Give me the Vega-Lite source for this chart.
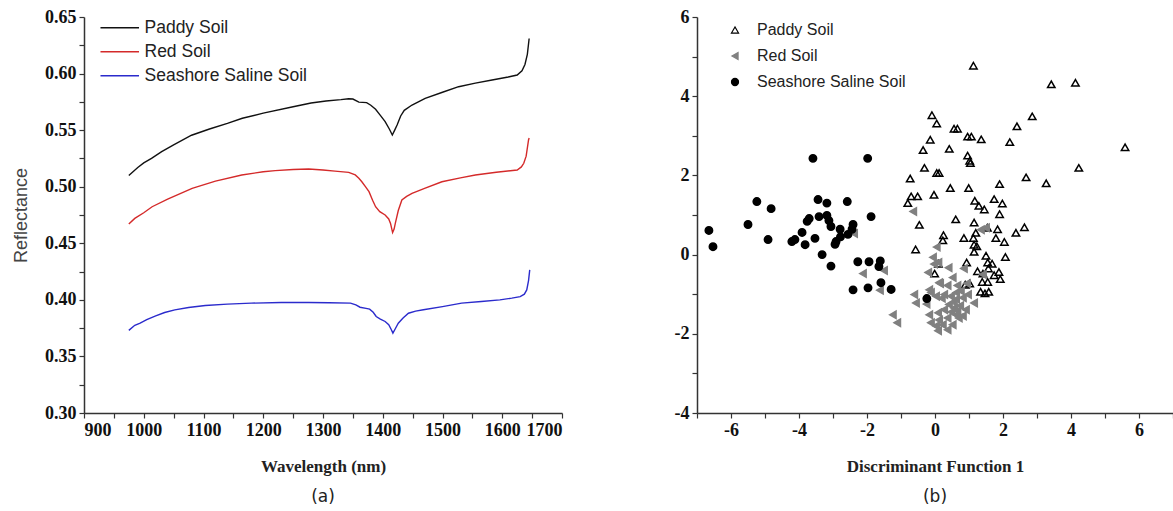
{
"$schema": "https://vega.github.io/schema/vega-lite/v6.json",
"padding": {"left": 12, "top": 8, "right": 0, "bottom": 0},
"spacing": 135,
"bounds": "flush",
"resolve": {"scale": {"color": "independent", "shape": "independent", "fill": "independent", "stroke": "independent", "x": "independent", "y": "independent"}, "legend": {"color": "independent", "shape": "independent", "fill": "independent", "stroke": "independent"}},
"config": {
  "view": {"stroke": null},
  "axis": {"domainColor": "#333", "tickColor": "#333", "domainWidth": 1.5, "tickWidth": 1.2, "tickSize": 5, "grid": false,
    "labelFont": "Liberation Serif", "labelFontWeight": "bold", "labelFontSize": 18, "labelColor": "#111",
    "titleFont": "Liberation Serif", "titleFontWeight": "bold", "titleFontSize": 17, "titleColor": "#222"}
},
"datasets": {
  "spectra": [
    {"soil":"Paddy Soil","wl":975,"r":0.510},{"soil":"Paddy Soil","wl":990,"r":0.517},{"soil":"Paddy Soil","wl":1000,"r":0.521},{"soil":"Paddy Soil","wl":1013,"r":0.525},{"soil":"Paddy Soil","wl":1030,"r":0.531},{"soil":"Paddy Soil","wl":1050,"r":0.537},{"soil":"Paddy Soil","wl":1080,"r":0.5455},{"soil":"Paddy Soil","wl":1110,"r":0.551},{"soil":"Paddy Soil","wl":1140,"r":0.556},{"soil":"Paddy Soil","wl":1165,"r":0.5605},{"soil":"Paddy Soil","wl":1200,"r":0.565},{"soil":"Paddy Soil","wl":1250,"r":0.5707},{"soil":"Paddy Soil","wl":1280,"r":0.574},{"soil":"Paddy Soil","wl":1305,"r":0.5758},{"soil":"Paddy Soil","wl":1330,"r":0.577},{"soil":"Paddy Soil","wl":1343,"r":0.5778},{"soil":"Paddy Soil","wl":1350,"r":0.5775},{"soil":"Paddy Soil","wl":1360,"r":0.5748},{"soil":"Paddy Soil","wl":1373,"r":0.5743},{"soil":"Paddy Soil","wl":1380,"r":0.572},{"soil":"Paddy Soil","wl":1388,"r":0.5684},{"soil":"Paddy Soil","wl":1396,"r":0.563},{"soil":"Paddy Soil","wl":1404,"r":0.5575},{"soil":"Paddy Soil","wl":1411,"r":0.551},{"soil":"Paddy Soil","wl":1416,"r":0.5457},{"soil":"Paddy Soil","wl":1420,"r":0.550},{"soil":"Paddy Soil","wl":1424,"r":0.5545},{"soil":"Paddy Soil","wl":1430,"r":0.5625},{"soil":"Paddy Soil","wl":1436,"r":0.5675},{"soil":"Paddy Soil","wl":1449,"r":0.5722},{"soil":"Paddy Soil","wl":1471,"r":0.5781},{"soil":"Paddy Soil","wl":1500,"r":0.5835},{"soil":"Paddy Soil","wl":1527,"r":0.5884},{"soil":"Paddy Soil","wl":1555,"r":0.5915},{"soil":"Paddy Soil","wl":1583,"r":0.5943},{"soil":"Paddy Soil","wl":1610,"r":0.597},{"soil":"Paddy Soil","wl":1625,"r":0.5987},{"soil":"Paddy Soil","wl":1633,"r":0.6025},{"soil":"Paddy Soil","wl":1638,"r":0.608},{"soil":"Paddy Soil","wl":1642,"r":0.617},{"soil":"Paddy Soil","wl":1645,"r":0.631},
    {"soil":"Red Soil","wl":975,"r":0.467},{"soil":"Red Soil","wl":985,"r":0.472},{"soil":"Red Soil","wl":1000,"r":0.477},{"soil":"Red Soil","wl":1014,"r":0.4823},{"soil":"Red Soil","wl":1040,"r":0.489},{"soil":"Red Soil","wl":1081,"r":0.4986},{"soil":"Red Soil","wl":1120,"r":0.505},{"soil":"Red Soil","wl":1164,"r":0.5104},{"soil":"Red Soil","wl":1200,"r":0.5132},{"soil":"Red Soil","wl":1220,"r":0.5142},{"soil":"Red Soil","wl":1250,"r":0.5152},{"soil":"Red Soil","wl":1276,"r":0.5157},{"soil":"Red Soil","wl":1300,"r":0.5148},{"soil":"Red Soil","wl":1320,"r":0.5138},{"soil":"Red Soil","wl":1343,"r":0.5127},{"soil":"Red Soil","wl":1354,"r":0.5104},{"soil":"Red Soil","wl":1360,"r":0.5075},{"soil":"Red Soil","wl":1365,"r":0.5044},{"soil":"Red Soil","wl":1371,"r":0.500},{"soil":"Red Soil","wl":1377,"r":0.4956},{"soil":"Red Soil","wl":1383,"r":0.488},{"soil":"Red Soil","wl":1388,"r":0.4823},{"soil":"Red Soil","wl":1395,"r":0.478},{"soil":"Red Soil","wl":1404,"r":0.475},{"soil":"Red Soil","wl":1410,"r":0.4715},{"soil":"Red Soil","wl":1413,"r":0.4676},{"soil":"Red Soil","wl":1416.5,"r":0.4595},{"soil":"Red Soil","wl":1419,"r":0.4625},{"soil":"Red Soil","wl":1421,"r":0.4676},{"soil":"Red Soil","wl":1426,"r":0.479},{"soil":"Red Soil","wl":1432,"r":0.4883},{"soil":"Red Soil","wl":1440,"r":0.4915},{"soil":"Red Soil","wl":1449,"r":0.4942},{"soil":"Red Soil","wl":1470,"r":0.4985},{"soil":"Red Soil","wl":1499,"r":0.5044},{"soil":"Red Soil","wl":1530,"r":0.5078},{"soil":"Red Soil","wl":1555,"r":0.5104},{"soil":"Red Soil","wl":1590,"r":0.5128},{"soil":"Red Soil","wl":1625,"r":0.5148},{"soil":"Red Soil","wl":1632,"r":0.5175},{"soil":"Red Soil","wl":1636,"r":0.5207},{"soil":"Red Soil","wl":1640,"r":0.527},{"soil":"Red Soil","wl":1644,"r":0.5413},{"soil":"Red Soil","wl":1645,"r":0.543},
    {"soil":"Seashore Saline Soil","wl":975,"r":0.373},{"soil":"Seashore Saline Soil","wl":985,"r":0.3775},{"soil":"Seashore Saline Soil","wl":994,"r":0.3794},{"soil":"Seashore Saline Soil","wl":1005,"r":0.3825},{"soil":"Seashore Saline Soil","wl":1020,"r":0.3859},{"soil":"Seashore Saline Soil","wl":1035,"r":0.3888},{"soil":"Seashore Saline Soil","wl":1052,"r":0.3912},{"soil":"Seashore Saline Soil","wl":1075,"r":0.3933},{"soil":"Seashore Saline Soil","wl":1103,"r":0.395},{"soil":"Seashore Saline Soil","wl":1140,"r":0.3962},{"soil":"Seashore Saline Soil","wl":1180,"r":0.3971},{"soil":"Seashore Saline Soil","wl":1230,"r":0.3976},{"soil":"Seashore Saline Soil","wl":1276,"r":0.3977},{"soil":"Seashore Saline Soil","wl":1310,"r":0.3975},{"soil":"Seashore Saline Soil","wl":1346,"r":0.3971},{"soil":"Seashore Saline Soil","wl":1355,"r":0.3955},{"soil":"Seashore Saline Soil","wl":1362,"r":0.3935},{"soil":"Seashore Saline Soil","wl":1372,"r":0.3925},{"soil":"Seashore Saline Soil","wl":1378,"r":0.3918},{"soil":"Seashore Saline Soil","wl":1384,"r":0.389},{"soil":"Seashore Saline Soil","wl":1389,"r":0.3853},{"soil":"Seashore Saline Soil","wl":1396,"r":0.383},{"soil":"Seashore Saline Soil","wl":1404,"r":0.3809},{"soil":"Seashore Saline Soil","wl":1410,"r":0.378},{"soil":"Seashore Saline Soil","wl":1414,"r":0.374},{"soil":"Seashore Saline Soil","wl":1417,"r":0.3706},{"soil":"Seashore Saline Soil","wl":1421,"r":0.3745},{"soil":"Seashore Saline Soil","wl":1426,"r":0.3794},{"soil":"Seashore Saline Soil","wl":1434,"r":0.384},{"soil":"Seashore Saline Soil","wl":1443,"r":0.3882},{"soil":"Seashore Saline Soil","wl":1455,"r":0.390},{"soil":"Seashore Saline Soil","wl":1468,"r":0.3912},{"soil":"Seashore Saline Soil","wl":1500,"r":0.394},{"soil":"Seashore Saline Soil","wl":1532,"r":0.3971},{"soil":"Seashore Saline Soil","wl":1565,"r":0.3985},{"soil":"Seashore Saline Soil","wl":1596,"r":0.400},{"soil":"Seashore Saline Soil","wl":1616,"r":0.4015},{"soil":"Seashore Saline Soil","wl":1630,"r":0.4029},{"soil":"Seashore Saline Soil","wl":1637,"r":0.405},{"soil":"Seashore Saline Soil","wl":1641,"r":0.4088},{"soil":"Seashore Saline Soil","wl":1644,"r":0.417},{"soil":"Seashore Saline Soil","wl":1646,"r":0.4265}
  ],
  "scores": [
    {"soil":"Paddy Soil","x":1.13,"y":4.77},{"soil":"Paddy Soil","x":3.42,"y":4.30},{"soil":"Paddy Soil","x":4.13,"y":4.34},{"soil":"Paddy Soil","x":5.59,"y":2.71},{"soil":"Paddy Soil","x":4.23,"y":2.19},{"soil":"Paddy Soil","x":2.86,"y":3.49},{"soil":"Paddy Soil","x":2.41,"y":3.24},{"soil":"Paddy Soil","x":2.20,"y":2.84},{"soil":"Paddy Soil","x":2.68,"y":1.95},{"soil":"Paddy Soil","x":3.27,"y":1.80},{"soil":"Paddy Soil","x":-0.09,"y":3.52},{"soil":"Paddy Soil","x":0.05,"y":3.31},{"soil":"Paddy Soil","x":-0.14,"y":2.90},{"soil":"Paddy Soil","x":-0.35,"y":2.64},{"soil":"Paddy Soil","x":-0.31,"y":2.19},{"soil":"Paddy Soil","x":-0.73,"y":1.92},{"soil":"Paddy Soil","x":0.05,"y":2.06},{"soil":"Paddy Soil","x":0.12,"y":2.06},{"soil":"Paddy Soil","x":0.42,"y":2.67},{"soil":"Paddy Soil","x":0.56,"y":3.18},{"soil":"Paddy Soil","x":0.66,"y":3.18},{"soil":"Paddy Soil","x":0.96,"y":2.98},{"soil":"Paddy Soil","x":1.07,"y":2.98},{"soil":"Paddy Soil","x":1.36,"y":2.91},{"soil":"Paddy Soil","x":0.96,"y":2.50},{"soil":"Paddy Soil","x":1.02,"y":2.37},{"soil":"Paddy Soil","x":1.04,"y":2.31},{"soil":"Paddy Soil","x":-0.03,"y":1.51},{"soil":"Paddy Soil","x":0.45,"y":1.68},{"soil":"Paddy Soil","x":0.99,"y":1.68},{"soil":"Paddy Soil","x":1.90,"y":1.78},{"soil":"Paddy Soil","x":-0.70,"y":1.47},{"soil":"Paddy Soil","x":-0.51,"y":1.47},{"soil":"Paddy Soil","x":-0.80,"y":1.30},{"soil":"Paddy Soil","x":-0.46,"y":0.75},{"soil":"Paddy Soil","x":0.61,"y":0.89},{"soil":"Paddy Soil","x":1.15,"y":0.81},{"soil":"Paddy Soil","x":1.17,"y":1.36},{"soil":"Paddy Soil","x":1.29,"y":1.23},{"soil":"Paddy Soil","x":1.45,"y":1.14},{"soil":"Paddy Soil","x":1.74,"y":1.40},{"soil":"Paddy Soil","x":1.98,"y":1.29},{"soil":"Paddy Soil","x":1.90,"y":1.02},{"soil":"Paddy Soil","x":1.54,"y":0.68},{"soil":"Paddy Soil","x":1.84,"y":0.64},{"soil":"Paddy Soil","x":2.38,"y":0.55},{"soil":"Paddy Soil","x":2.63,"y":0.69},{"soil":"Paddy Soil","x":0.25,"y":0.49},{"soil":"Paddy Soil","x":0.23,"y":0.36},{"soil":"Paddy Soil","x":0.85,"y":0.42},{"soil":"Paddy Soil","x":1.13,"y":0.42},{"soil":"Paddy Soil","x":1.20,"y":0.55},{"soil":"Paddy Soil","x":1.79,"y":0.42},{"soil":"Paddy Soil","x":2.04,"y":0.32},{"soil":"Paddy Soil","x":-0.57,"y":0.13},{"soil":"Paddy Soil","x":1.15,"y":0.25},{"soil":"Paddy Soil","x":1.23,"y":0.21},{"soil":"Paddy Soil","x":1.15,"y":0.07},{"soil":"Paddy Soil","x":1.50,"y":-0.03},{"soil":"Paddy Soil","x":2.07,"y":-0.06},{"soil":"Paddy Soil","x":-0.01,"y":-0.48},{"soil":"Paddy Soil","x":0.10,"y":-0.23},{"soil":"Paddy Soil","x":0.93,"y":-0.20},{"soil":"Paddy Soil","x":1.25,"y":-0.42},{"soil":"Paddy Soil","x":1.55,"y":-0.20},{"soil":"Paddy Soil","x":1.68,"y":-0.23},{"soil":"Paddy Soil","x":1.57,"y":-0.35},{"soil":"Paddy Soil","x":1.41,"y":-0.48},{"soil":"Paddy Soil","x":1.74,"y":-0.52},{"soil":"Paddy Soil","x":1.88,"y":-0.44},{"soil":"Paddy Soil","x":1.92,"y":-0.62},{"soil":"Paddy Soil","x":1.55,"y":-0.69},{"soil":"Paddy Soil","x":1.39,"y":-0.69},{"soil":"Paddy Soil","x":1.02,"y":-0.73},{"soil":"Paddy Soil","x":0.89,"y":-0.76},{"soil":"Paddy Soil","x":1.34,"y":-0.94},{"soil":"Paddy Soil","x":1.47,"y":-0.98},{"soil":"Paddy Soil","x":1.58,"y":-0.94},
    {"soil":"Red Soil","x":-2.38,"y":0.53},{"soil":"Red Soil","x":-2.12,"y":-0.48},{"soil":"Red Soil","x":-1.50,"y":-0.40},{"soil":"Red Soil","x":-1.62,"y":-0.90},{"soil":"Red Soil","x":-0.64,"y":1.09},{"soil":"Red Soil","x":-1.24,"y":-1.52},{"soil":"Red Soil","x":-1.11,"y":-1.72},{"soil":"Red Soil","x":-0.61,"y":-1.01},{"soil":"Red Soil","x":-0.56,"y":-1.22},{"soil":"Red Soil","x":-0.17,"y":-0.89},{"soil":"Red Soil","x":-0.06,"y":-0.07},{"soil":"Red Soil","x":0.05,"y":0.19},{"soil":"Red Soil","x":-0.03,"y":-0.24},{"soil":"Red Soil","x":0.10,"y":-0.20},{"soil":"Red Soil","x":0.40,"y":-0.33},{"soil":"Red Soil","x":0.12,"y":-0.71},{"soil":"Red Soil","x":0.52,"y":-0.58},{"soil":"Red Soil","x":0.15,"y":-0.73},{"soil":"Red Soil","x":0.37,"y":-0.78},{"soil":"Red Soil","x":0.66,"y":-0.78},{"soil":"Red Soil","x":0.94,"y":-0.73},{"soil":"Red Soil","x":1.41,"y":-0.50},{"soil":"Red Soil","x":1.50,"y":0.68},{"soil":"Red Soil","x":1.35,"y":0.63},{"soil":"Red Soil","x":-0.12,"y":-0.96},{"soil":"Red Soil","x":0.03,"y":-1.05},{"soil":"Red Soil","x":0.27,"y":-1.01},{"soil":"Red Soil","x":0.47,"y":-1.05},{"soil":"Red Soil","x":0.62,"y":-1.13},{"soil":"Red Soil","x":0.82,"y":-1.09},{"soil":"Red Soil","x":1.15,"y":-1.22},{"soil":"Red Soil","x":0.41,"y":-1.26},{"soil":"Red Soil","x":0.56,"y":-1.35},{"soil":"Red Soil","x":0.74,"y":-1.29},{"soil":"Red Soil","x":0.91,"y":-1.39},{"soil":"Red Soil","x":0.27,"y":-1.39},{"soil":"Red Soil","x":0.09,"y":-1.47},{"soil":"Red Soil","x":-0.17,"y":-1.52},{"soil":"Red Soil","x":0.62,"y":-1.52},{"soil":"Red Soil","x":0.82,"y":-1.55},{"soil":"Red Soil","x":0.37,"y":-1.60},{"soil":"Red Soil","x":0.12,"y":-1.65},{"soil":"Red Soil","x":-0.12,"y":-1.72},{"soil":"Red Soil","x":0.03,"y":-1.80},{"soil":"Red Soil","x":0.23,"y":-1.77},{"soil":"Red Soil","x":0.37,"y":-1.90},{"soil":"Red Soil","x":0.09,"y":-1.92},{"soil":"Red Soil","x":0.66,"y":-1.42},{"soil":"Red Soil","x":0.52,"y":-1.77},{"soil":"Red Soil","x":0.97,"y":-1.01},{"soil":"Red Soil","x":0.76,"y":-0.92},{"soil":"Red Soil","x":0.62,"y":-0.96},{"soil":"Red Soil","x":0.55,"y":-1.20},{"soil":"Red Soil","x":0.70,"y":-1.60},{"soil":"Red Soil","x":0.48,"y":-1.45},{"soil":"Red Soil","x":-0.25,"y":-1.25},{"soil":"Red Soil","x":0.20,"y":-1.10},{"soil":"Red Soil","x":0.85,"y":-0.35},{"soil":"Red Soil","x":-0.20,"y":-0.45},
    {"soil":"Seashore Saline Soil","x":-6.65,"y":0.61},{"soil":"Seashore Saline Soil","x":-6.53,"y":0.20},{"soil":"Seashore Saline Soil","x":-5.50,"y":0.76},{"soil":"Seashore Saline Soil","x":-5.24,"y":1.34},{"soil":"Seashore Saline Soil","x":-4.91,"y":0.38},{"soil":"Seashore Saline Soil","x":-4.82,"y":1.16},{"soil":"Seashore Saline Soil","x":-4.21,"y":0.33},{"soil":"Seashore Saline Soil","x":-4.12,"y":0.38},{"soil":"Seashore Saline Soil","x":-3.91,"y":0.56},{"soil":"Seashore Saline Soil","x":-3.82,"y":0.25},{"soil":"Seashore Saline Soil","x":-3.76,"y":0.84},{"soil":"Seashore Saline Soil","x":-3.70,"y":0.91},{"soil":"Seashore Saline Soil","x":-3.59,"y":2.43},{"soil":"Seashore Saline Soil","x":-3.53,"y":0.41},{"soil":"Seashore Saline Soil","x":-3.44,"y":1.39},{"soil":"Seashore Saline Soil","x":-3.41,"y":0.96},{"soil":"Seashore Saline Soil","x":-3.32,"y":0.0},{"soil":"Seashore Saline Soil","x":-3.18,"y":1.30},{"soil":"Seashore Saline Soil","x":-3.18,"y":0.99},{"soil":"Seashore Saline Soil","x":-3.12,"y":0.86},{"soil":"Seashore Saline Soil","x":-3.06,"y":0.71},{"soil":"Seashore Saline Soil","x":-3.06,"y":-0.29},{"soil":"Seashore Saline Soil","x":-2.94,"y":0.26},{"soil":"Seashore Saline Soil","x":-2.91,"y":0.33},{"soil":"Seashore Saline Soil","x":-2.79,"y":0.64},{"soil":"Seashore Saline Soil","x":-2.78,"y":0.45},{"soil":"Seashore Saline Soil","x":-2.58,"y":1.34},{"soil":"Seashore Saline Soil","x":-2.56,"y":0.51},{"soil":"Seashore Saline Soil","x":-2.44,"y":0.64},{"soil":"Seashore Saline Soil","x":-2.41,"y":0.76},{"soil":"Seashore Saline Soil","x":-2.27,"y":-0.18},{"soil":"Seashore Saline Soil","x":-2.41,"y":-0.89},{"soil":"Seashore Saline Soil","x":-1.98,"y":2.43},{"soil":"Seashore Saline Soil","x":-1.88,"y":0.96},{"soil":"Seashore Saline Soil","x":-1.97,"y":-0.84},{"soil":"Seashore Saline Soil","x":-1.94,"y":-0.18},{"soil":"Seashore Saline Soil","x":-1.65,"y":-0.30},{"soil":"Seashore Saline Soil","x":-1.61,"y":-0.16},{"soil":"Seashore Saline Soil","x":-1.59,"y":-0.71},{"soil":"Seashore Saline Soil","x":-1.29,"y":-0.88},{"soil":"Seashore Saline Soil","x":-0.24,"y":-1.11}
  ]
},
"hconcat": [
  {
    "width": 478, "height": 396,
    "title": {"text": "(a)", "orient": "bottom", "anchor": "middle", "font": "DejaVu Sans", "fontSize": 17, "fontWeight": "normal", "color": "#222", "offset": 15},
    "data": {"name": "spectra"},
    "mark": {"type": "line", "strokeWidth": 1.4, "clip": true},
    "encoding": {
      "x": {"field": "wl", "type": "quantitative", "scale": {"domain": [900, 1700], "nice": false, "zero": false},
        "axis": {"title": "Wavelength (nm)", "values": [900,950,1000,1050,1100,1150,1200,1250,1300,1350,1400,1450,1500,1550,1600,1650,1700], "labelExpr": "datum.value % 100 == 0 ? '' + datum.value : ''", "labelFont": "Liberation Serif", "labelFontWeight": "bold", "labelFontSize": 18, "labelPadding": 3, "titlePadding": 19}},
      "y": {"field": "r", "type": "quantitative", "scale": {"domain": [0.3, 0.65], "nice": false, "zero": false},
        "axis": {"title": "Reflectance", "titleFont": "Liberation Sans", "titleFontWeight": "normal", "titleFontSize": 18, "titleColor": "#444", "titlePadding": 14, "values": [0.3,0.325,0.35,0.375,0.4,0.425,0.45,0.475,0.5,0.525,0.55,0.575,0.6,0.625,0.65], "labelExpr": "round(datum.value*1000) % 50 == 0 ? format(datum.value, '.2f') : ''", "labelFont": "Liberation Serif", "labelFontWeight": "bold", "labelFontSize": 18, "labelPadding": 3}},
      "color": {"field": "soil", "type": "nominal",
        "scale": {"domain": ["Paddy Soil", "Red Soil", "Seashore Saline Soil"], "range": ["#111111", "#d42a2a", "#2b2bcc"]},
        "legend": {"title": null, "orient": "none", "legendX": 27, "legendY": 2, "symbolType": "M-3,0H3", "symbolSize": 165, "symbolStrokeWidth": 1.5, "symbolFillColor": "transparent", "labelFont": "Liberation Sans", "labelFontSize": 17.5, "labelColor": "#222", "labelOffset": 16, "labelLimit": 400, "rowPadding": 5}}
    }
  },
  {
    "width": 476, "height": 396,
    "title": {"text": "(b)", "orient": "bottom", "anchor": "middle", "font": "DejaVu Sans", "fontSize": 17, "fontWeight": "normal", "color": "#222", "offset": 15},
    "data": {"name": "scores"},
    "mark": {"type": "point", "size": 55, "strokeWidth": 1.5, "opacity": 1},
    "encoding": {
      "x": {"field": "x", "type": "quantitative", "scale": {"domain": [-7, 7], "nice": false, "zero": false},
        "axis": {"title": "Discriminant Function 1", "values": [-7,-6,-5,-4,-3,-2,-1,0,1,2,3,4,5,6,7], "labelExpr": "datum.value % 2 == 0 ? '' + datum.value : ''", "labelFont": "Liberation Serif", "labelFontWeight": "bold", "labelFontSize": 18, "labelPadding": 3, "titlePadding": 19}},
      "y": {"field": "y", "type": "quantitative", "scale": {"domain": [-4, 6], "nice": false, "zero": false},
        "axis": {"title": null, "values": [-4,-3,-2,-1,0,1,2,3,4,5,6], "labelExpr": "datum.value % 2 == 0 ? '' + datum.value : ''", "labelFont": "Liberation Serif", "labelFontWeight": "bold", "labelFontSize": 18, "labelPadding": 3}},
      "shape": {"field": "soil", "type": "nominal", "scale": {"domain": ["Paddy Soil", "Red Soil", "Seashore Saline Soil"], "range": ["triangle-up", "triangle-left", "circle"]},
        "legend": {"title": null, "orient": "none", "legendX": 30, "legendY": 5, "labelFont": "Liberation Sans", "labelFontSize": 16, "labelColor": "#222", "labelOffset": 14, "labelLimit": 400, "rowPadding": 10, "symbolSize": 50, "symbolStrokeWidth": 1.2}},
      "fill": {"field": "soil", "type": "nominal", "scale": {"domain": ["Paddy Soil", "Red Soil", "Seashore Saline Soil"], "range": ["transparent", "#808080", "#000000"]}, "legend": {"title": null, "orient": "none", "legendX": 30, "legendY": 5}},
      "stroke": {"field": "soil", "type": "nominal", "scale": {"domain": ["Paddy Soil", "Red Soil", "Seashore Saline Soil"], "range": ["#000000", "#808080", "#000000"]}, "legend": {"title": null, "orient": "none", "legendX": 30, "legendY": 5}}
    }
  }
]
}
